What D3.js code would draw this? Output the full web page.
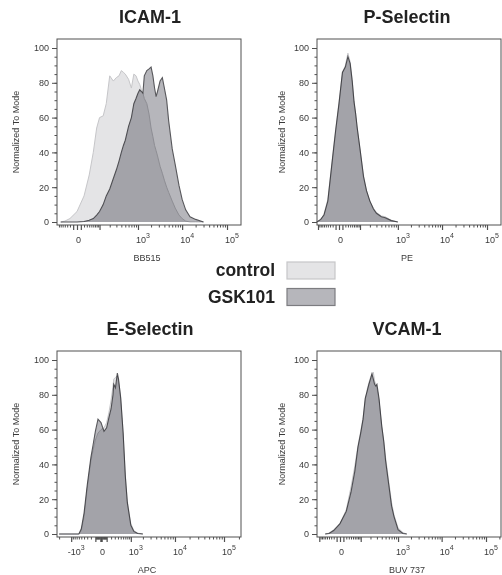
<!DOCTYPE html>
<html>
<head>
<meta charset="utf-8">
<script src="https://cdnjs.cloudflare.com/ajax/libs/d3/7.8.5/d3.min.js"></script>
<style>
  body { margin: 0; background: #fff; }
  text { font-family: "Liberation Sans", Arial, sans-serif; }
</style>
</head>
<body>
<script>
// panel titles / channel names
const titles = ["ICAM-1", "P-Selectin", "E-Selectin", "VCAM-1"];
const channels = ["BB515", "PE", "APC", "BUV 737"];
const seriesNames = ["control", "GSK101"];
const yTicks = [0, 20, 40, 60, 80, 100];
const xTicksPos = [0, 1e3, 1e4, 1e5];
const xTicksNeg = [-1e3, 0, 1e3, 1e4, 1e5];

// histograms: intensity -> % of mode
const icamX = [-60, -40, -20, 0, 20, 40, 60, 80, 100, 130, 160, 200, 250, 300, 350, 400, 450, 500, 600, 700, 800, 900, 1000, 1100, 1200, 1300, 1400, 1600, 1800, 2000, 2200, 2400, 2600, 2800, 3200, 3600, 4000, 4500, 5000, 6000, 7000, 8500, 10000, 12000, 15000, 20000, 30000];
const icamControl = [0, 0.5, 2, 6, 15, 27, 40, 54, 60, 61, 68, 84, 81, 83, 84, 87, 86, 85, 82, 77, 85, 84, 81, 79, 76, 74, 71, 68, 62, 54, 49, 44, 41, 38, 32, 28, 24, 20, 17, 12, 8, 4, 2, 0.5, 0, 0, 0];
const icamGsk = [0, 0, 0, 0, 0.3, 1, 2, 4, 6, 10, 15, 19, 25, 30, 35, 40, 44, 47, 55, 60, 68, 71, 74, 76, 75, 74, 84, 87, 88, 89, 84, 77, 72, 75, 81, 83, 77, 70, 58, 42, 33, 21, 13, 7, 3, 1.5, 0];

const pselX = [-110, -80, -60, -40, -20, -10, 0, 10, 20, 30, 40, 50, 60, 70, 80, 100, 130, 160, 200, 250, 300, 400, 500, 700, 1000];
const pselControl = [0, 1.5, 4.5, 13, 38, 53, 69, 86, 90, 97, 92, 82, 70, 62, 54, 42, 27, 18, 12, 8, 5.5, 3.5, 3, 1, 0];
const pselGsk = [0, 1.5, 4, 12, 37, 52, 68, 86, 89, 95, 91, 81, 69, 62, 54, 42, 26, 18, 12, 7.5, 5, 3, 2.5, 0.8, 0];

const eselX = [-2000, -1000, -600, -500, -400, -300, -200, -150, -100, -50, 0, 50, 100, 150, 200, 250, 270, 320, 380, 420, 500, 600, 700, 800, 1000, 1200, 1500, 2000];
const eselControl = [0, 0, 0, 2, 10, 26, 42, 48, 54, 58, 60, 61, 64, 70, 77, 85, 89, 90, 91, 88, 79, 58, 34, 19, 6, 2, 0.5, 0];
const eselGsk = [0, 0, 0, 3, 12, 28, 44, 51, 59, 66, 64, 59, 61, 67, 72, 80, 86, 84, 92.5, 89, 78, 58, 33, 18, 5, 1.5, 0.3, 0];

const vcamX = [-60, -40, -20, 0, 20, 40, 60, 80, 100, 120, 140, 160, 180, 200, 220, 240, 260, 280, 300, 340, 400, 450, 500, 600, 700, 800, 1000, 1300, 1600];
const vcamControl = [0, 0.5, 2.5, 6, 14, 27, 39, 51, 59, 67, 77, 83, 87, 90, 92, 93, 88, 86, 84, 77, 62, 54, 44, 30, 18, 11, 3.5, 0.8, 0];
const vcamGsk = [0, 0.3, 2, 6, 13, 24, 36, 50, 58, 66, 78, 82, 86, 89, 92, 89, 86, 85, 86, 78, 62, 53, 42, 28, 16, 10, 2.5, 0.3, 0];

const W = 502, H = 575;
const svg = d3.select("body").append("svg")
    .attr("width", W).attr("height", H)
    .style("display", "block");

// layout of the four panels (frame box, biex constant, pixel of 0 and 1e5)
const panels = [
    {x: icamX, c: icamControl, g: icamGsk, ticks: xTicksPos, left: 57, right: 241, top: 39, bottom: 225, k: 46, x0: 77, x5: 227, tx: 150, yt: 16},
    {x: pselX, c: pselControl, g: pselGsk, ticks: xTicksPos, left: 317, right: 501, top: 39, bottom: 225, k: 52, x0: 339, x5: 487, tx: 407, yt: 282},
    {x: eselX, c: eselControl, g: eselGsk, ticks: xTicksNeg, left: 57, right: 241, top: 351, bottom: 537, k: 335, x0: 101, x5: 224, tx: 150, yt: 16},
    {x: vcamX, c: vcamControl, g: vcamGsk, ticks: xTicksPos, left: 317, right: 501, top: 351, bottom: 537, k: 52, x0: 340, x5: 486, tx: 407, yt: 282}
];

const controlFill = "#e4e4e6", controlStroke = "#c6c6c9";
const gskFill = "#b6b6bb", gskStroke = "#58585c";
const axisColor = "#505050", labelColor = "#3a3a3a";

const mantissas = [2, 3, 4, 5, 6, 7, 8, 9];
const decades = [10, 100, 1000, 10000, 100000];

panels.forEach((p, i) => {
    const g = svg.append("g");

    const x = d3.scaleSymlog().constant(p.k)
        .domain([0, 1e5])
        .range([p.x0, p.x5]);
    const y = d3.scaleLinear()
        .domain([0, 100])
        .range([p.bottom - 3, p.top + 9]);

    const inside = v => x(v) > p.left + 0.5 && x(v) < p.right - 0.5;

    // histograms
    const area = d3.area()
        .x(d => x(d[0]))
        .y0(y(0))
        .y1(d => y(d[1]));
    const line = d3.line()
        .x(d => x(d[0]))
        .y(d => y(d[1]));

    const ctrl = p.x.map((v, j) => [v, p.c[j]]);
    const gsk = p.x.map((v, j) => [v, p.g[j]]);

    g.append("path").datum(ctrl).attr("d", area).attr("fill", controlFill);
    g.append("path").datum(ctrl).attr("d", line)
        .attr("fill", "none").attr("stroke", controlStroke).attr("stroke-width", 1);

    const gg = g.append("g").style("mix-blend-mode", "multiply");
    gg.append("path").datum(gsk).attr("d", area).attr("fill", gskFill);
    gg.append("path").datum(gsk).attr("d", line)
        .attr("fill", "none").attr("stroke", gskStroke).attr("stroke-width", 1.1);

    // frame
    g.append("rect")
        .attr("x", p.left).attr("y", p.top)
        .attr("width", p.right - p.left).attr("height", p.bottom - p.top)
        .attr("fill", "none").attr("stroke", axisColor).attr("stroke-width", 1);

    // y axis
    const yMinor = d3.range(0, 101, 5);
    g.append("g")
        .attr("transform", `translate(${p.left},0)`)
        .call(d3.axisLeft(y).tickValues(yMinor).tickSize(2.5).tickFormat(""))
        .call(a => a.select(".domain").remove())
        .call(a => a.selectAll("line").attr("stroke", axisColor));
    g.append("g")
        .attr("transform", `translate(${p.left},0)`)
        .call(d3.axisLeft(y).tickValues(yTicks).tickSize(5).tickPadding(3))
        .call(a => a.select(".domain").remove())
        .call(a => a.selectAll("line").attr("stroke", axisColor))
        .call(a => a.selectAll("text")
            .attr("fill", labelColor)
            .style("font-size", "9px")
            .style("font-family", "Liberation Sans, Arial, sans-serif"));

    // x axis (biexponential style ticks)
    const minor = decades.flatMap(d => mantissas.map(m => m * d))
        .concat(decades.flatMap(d => mantissas.map(m => -m * d)))
        .filter(inside);
    const major = [0].concat(decades, decades.map(d => -d)).filter(inside);

    g.append("g")
        .attr("transform", `translate(0,${p.bottom})`)
        .call(d3.axisBottom(x).tickValues(minor).tickSize(2.5).tickFormat(""))
        .call(a => a.select(".domain").remove())
        .call(a => a.selectAll("line").attr("stroke", axisColor));
    g.append("g")
        .attr("transform", `translate(0,${p.bottom})`)
        .call(d3.axisBottom(x).tickValues(major).tickSize(5).tickFormat(""))
        .call(a => a.select(".domain").remove())
        .call(a => a.selectAll("line").attr("stroke", axisColor).attr("stroke-width", 1.2));

    // x tick labels with superscripts
    p.ticks.forEach(v => {
        const t = g.append("text")
            .attr("y", p.bottom + 18)
            .attr("text-anchor", "middle")
            .attr("fill", labelColor)
            .style("font-size", "9px");
        if (v === 0) {
            t.attr("x", x(v) + 1.5).text("0");
        } else {
            const e = Math.round(Math.log10(Math.abs(v)));
            t.attr("x", x(v) + 5);
            t.append("tspan").text(v < 0 ? "-10" : "10");
            t.append("tspan").attr("dy", -5).style("font-size", "7px").text(e);
        }
    });

    // axis titles
    g.append("text")
        .attr("x", (p.left + p.right) / 2 - 2)
        .attr("y", p.bottom + 36)
        .attr("text-anchor", "middle")
        .attr("fill", labelColor)
        .style("font-size", "9px")
        .text(channels[i]);
    g.append("text")
        .attr("transform", `translate(${p.yt},${(p.top + p.bottom) / 2}) rotate(-90)`)
        .attr("text-anchor", "middle")
        .attr("dy", "0.35em")
        .attr("fill", labelColor)
        .style("font-size", "9px")
        .text("Normalized To Mode");

    // panel title
    g.append("text")
        .attr("x", p.tx)
        .attr("y", p.top - 16)
        .attr("text-anchor", "middle")
        .attr("fill", "#222")
        .style("font-size", "18px")
        .style("font-weight", "bold")
        .text(titles[i]);
});

// legend
const legendFill = [controlFill, gskFill];
const legendStroke = ["#c6c6c8", "#7c7c80"];
seriesNames.forEach((name, i) => {
    const yy = 262 + i * 26.5;
    svg.append("text")
        .attr("x", 275).attr("y", yy + 14)
        .attr("text-anchor", "end")
        .attr("fill", "#222")
        .style("font-size", "17.5px")
        .style("font-weight", "bold")
        .text(name);
    svg.append("rect")
        .attr("x", 287).attr("y", yy)
        .attr("width", 48).attr("height", 17)
        .attr("fill", legendFill[i])
        .attr("stroke", legendStroke[i])
        .attr("stroke-width", 1.2);
});
</script>
</body>
</html>
